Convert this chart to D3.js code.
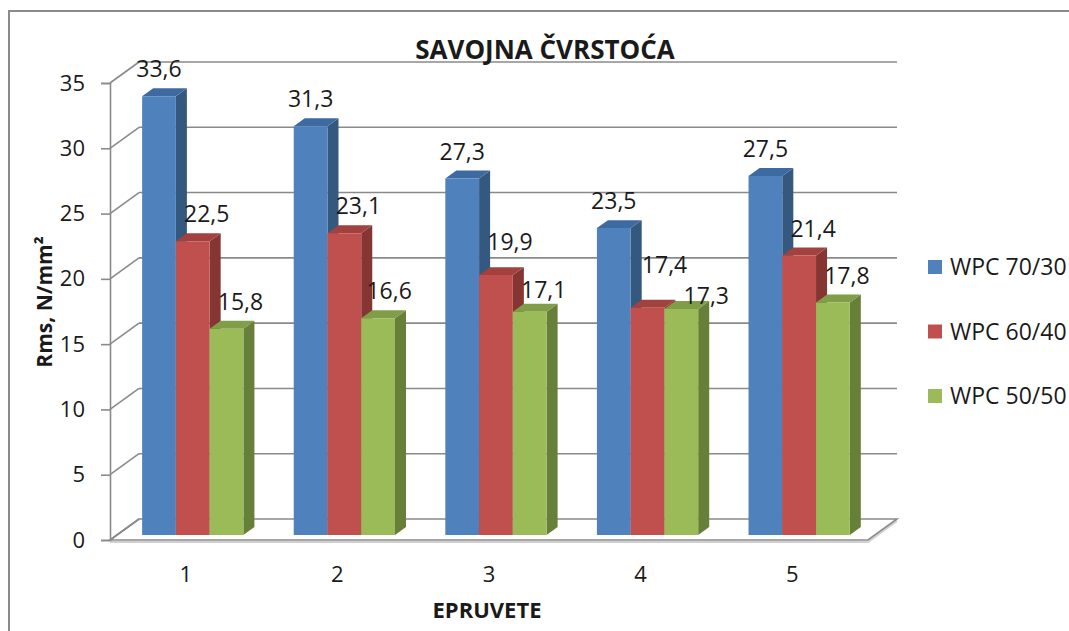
<!DOCTYPE html>
<html>
<head>
<meta charset="utf-8">
<script src="https://cdn.jsdelivr.net/npm/d3@7"></script>
<style>
  html, body { margin: 0; padding: 0; background: #fff; }
  svg { display: block; }
  text { font-family: "Open Sans", "Noto Sans", sans-serif; fill: #1a1a1a; }
</style>
</head>
<body>
<svg id="chart" width="1069" height="631"></svg>
<script>
// Data
const categories = ["1", "2", "3", "4", "5"];
const seriesNames = ["WPC 70/30", "WPC 60/40", "WPC 50/50"];
const wpc7030 = [33.6, 31.3, 27.3, 23.5, 27.5];
const wpc6040 = [22.5, 23.1, 19.9, 17.4, 21.4];
const wpc5050 = [15.8, 16.6, 17.1, 17.3, 17.8];
const yTicks = [0, 5, 10, 15, 20, 25, 30, 35];
const chartTitle = "SAVOJNA ČVRSTOĆA";
const xTitle = "EPRUVETE";
const yTitle = "Rms, N/mm²";

const seriesValues = [wpc7030, wpc6040, wpc5050];

// Face colours per series: front, top, side
const faceColors = [
  { front: "#4F81BD", top: "#3E6AA2", side: "#35587F" },
  { front: "#C0504D", top: "#A3413E", side: "#853532" },
  { front: "#9BBB59", top: "#809E47", side: "#66803A" }
];

// Oblique 3D layout
const DX = 29, DY = 21;          // full depth offset of the walls
const Z0 = 0.24, Z1 = 0.62;      // bar front / back depth
const svg = d3.select("#chart");

const x = d3.scaleBand().domain(categories).range([110, 868])
  .paddingInner(0.332).paddingOuter(0.166);
const xs = d3.scaleBand().domain(d3.range(seriesNames.length)).range([0, x.bandwidth()]);
const y = d3.scaleLinear().domain([0, 35]).range([540, 83]);

const P = (px, v, z) => [px + z * DX, y(v) - z * DY];
const poly = pts => pts.map(p => p.join(",")).join(" ");

const gridColor = "#8a8a8a";

// Outer frame
svg.append("rect").attr("x", 9).attr("y", 11).attr("width", 1100).attr("height", 700)
  .attr("fill", "none").attr("stroke", gridColor).attr("stroke-width", 2);

const x0 = x.range()[0], x1 = x.range()[1];

// Floor slab: thin lighter edge under the front and right edges, then the outline
svg.append("polyline")
  .attr("points", poly([[x0, y(0) + 2], [x1, y(0) + 2], [x1 + DX, y(0) - DY + 2]]))
  .attr("fill", "none").attr("stroke", "#d0d0d0").attr("stroke-width", 2);
svg.append("polygon")
  .attr("points", poly([P(x0, 0, 0), P(x1, 0, 0), P(x1, 0, 1), P(x0, 0, 1)]))
  .attr("fill", "#fff").attr("stroke", gridColor).attr("stroke-width", 1.6);

// Back wall gridlines and side-wall diagonals
const grid = svg.append("g").attr("stroke", gridColor).attr("stroke-width", 1.6).attr("fill", "none");
yTicks.forEach(t => {
  if (t > 0) {
    const a = P(x0, t, 1), b = P(x1, t, 1);
    grid.append("line").attr("x1", a[0]).attr("y1", a[1]).attr("x2", b[0]).attr("y2", b[1]);
  }
  const c = P(x0, t, 0), d = P(x0, t, 1);
  grid.append("line").attr("x1", c[0]).attr("y1", c[1]).attr("x2", d[0]).attr("y2", d[1]);
});

// Value axis (front edge of the side wall)
const yAxis = d3.axisLeft(y).tickValues(yTicks).tickSize(9).tickPadding(16).tickFormat(d3.format("d"));
const yAxisG = svg.append("g").attr("transform", `translate(${x0},0)`).call(yAxis);
yAxisG.select(".domain").attr("stroke", gridColor).attr("stroke-width", 1.6);
yAxisG.selectAll(".tick line").attr("stroke", gridColor).attr("stroke-width", 1.6);
yAxisG.selectAll(".tick text").attr("font-size", 22).attr("fill", "#1a1a1a")
  .style("font-family", "'Open Sans', sans-serif");

// Category axis labels
const xAxis = d3.axisBottom(x).tickSize(0).tickPadding(26);
const xAxisG = svg.append("g").attr("transform", `translate(0,${y(0)})`).call(xAxis);
xAxisG.select(".domain").remove();
xAxisG.selectAll(".tick text").attr("font-size", 22).attr("fill", "#1a1a1a")
  .style("font-family", "'Open Sans', sans-serif");

// Bars, painted left to right so nearer faces overlap correctly
const bars = svg.append("g");
categories.forEach((c, ci) => {
  seriesValues.forEach((vals, si) => {
    const v = vals[ci];
    const bx0 = x(c) + xs(si), bx1 = bx0 + xs.bandwidth();
    const col = faceColors[si];
    const g = bars.append("g");
    g.append("polygon").attr("fill", col.side)
      .attr("points", poly([P(bx1, 0, Z0), P(bx1, 0, Z1), P(bx1, v, Z1), P(bx1, v, Z0)]));
    g.append("polygon").attr("fill", col.top)
      .attr("points", poly([P(bx0, v, Z0), P(bx1, v, Z0), P(bx1, v, Z1), P(bx0, v, Z1)]));
    g.append("polygon").attr("fill", col.front)
      .attr("points", poly([P(bx0, 0, Z0), P(bx1, 0, Z0), P(bx1, v, Z0), P(bx0, v, Z0)]));
  });
});

// Data labels (nudges keyed by category name | series index)
const fmt = v => String(v.toFixed(1)).replace(".", ",");
const seriesLabelShift = [0, 14, 14];
const labelNudge = { "2|2": [-3, 0], "3|1": [0, -6], "3|2": [0, 5], "4|1": [3, -16], "4|2": [11, 14] };
const labels = svg.append("g");
categories.forEach((c, ci) => {
  seriesValues.forEach((vals, si) => {
    const v = vals[ci];
    const bx0 = x(c) + xs(si), bx1 = bx0 + xs.bandwidth();
    const top = P((bx0 + bx1) / 2, v, Z0);
    const n = labelNudge[`${c}|${si}`] || [0, 0];
    labels.append("text")
      .attr("x", top[0] + seriesLabelShift[si] + n[0])
      .attr("y", top[1] - 19 + n[1])
      .attr("text-anchor", "middle").attr("font-size", 23)
      .text(fmt(v));
  });
});

// Titles
svg.append("text").attr("x", 545).attr("y", 59).attr("text-anchor", "middle")
  .attr("font-size", 26).attr("font-weight", "bold").text(chartTitle);
svg.append("text").attr("x", 487).attr("y", 618).attr("text-anchor", "middle")
  .attr("font-size", 22).attr("font-weight", "bold").text(xTitle);
svg.append("text").attr("transform", "translate(52,302) rotate(-90)").attr("text-anchor", "middle")
  .attr("font-size", 21).attr("font-weight", "bold").text(yTitle);

// Legend
const legend = svg.append("g");
seriesNames.forEach((name, i) => {
  const cy = 267 + i * 64.5;
  legend.append("rect").attr("x", 928).attr("y", cy - 7).attr("width", 14).attr("height", 14)
    .attr("fill", faceColors[i].front);
  legend.append("text").attr("x", 950).attr("y", cy + 8).attr("font-size", 23).text(name);
});
</script>
</body>
</html>
